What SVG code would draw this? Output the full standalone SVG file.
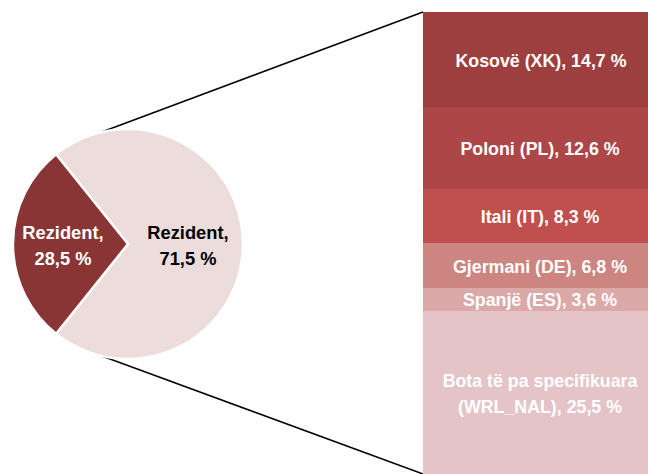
<svg xmlns="http://www.w3.org/2000/svg" width="648" height="474" viewBox="0 0 648 474">
<style>
text{font-family:"Liberation Sans",Arial,sans-serif;font-weight:bold;text-anchor:middle}
.bl{font-size:17.8px;fill:#ffffff}
.pl{font-size:18.3px}
.slice{stroke:#ffffff;stroke-width:2.5;stroke-linejoin:miter}
.conn{stroke:#000000;stroke-width:1.5;fill:none}
</style>
<rect width="648" height="474" fill="#ffffff"/>
<g id="connectors">
<line class="conn" x1="91" y1="136" x2="423" y2="12"/>
<line class="conn" x1="91" y1="352" x2="423" y2="474"/>
</g>
<g id="pie-other">
<path class="slice" d="M128,244 L56.1,154.2 A115,115 0 1 1 56.1,333.8 Z" fill="#ecdcdc"/>
<text class="pl" x="188" y="239" fill="#000000">Rezident,</text>
<text class="pl" x="188" y="265" fill="#000000">71,5 %</text>
</g>
<g id="pie-resident">
<path class="slice" d="M128,244 L56.1,333.8 A115,115 0 0 1 56.1,154.2 Z" fill="#8a3535"/>
<text class="pl" x="63" y="239" fill="#ffffff">Rezident,</text>
<text class="pl" x="63" y="265" fill="#ffffff">28,5 %</text>
</g>
<g id="bar-xk">
<rect x="423" y="12" width="225" height="95" fill="#9e3f3f"/>
<text class="bl" x="541" y="67">Kosovë (XK), 14,7 %</text>
</g>
<g id="bar-pl">
<rect x="423" y="107" width="225" height="82" fill="#ad4747"/>
<text class="bl" x="540" y="155">Poloni (PL), 12,6 %</text>
</g>
<g id="bar-it">
<rect x="423" y="189" width="225" height="54" fill="#c0504d"/>
<text class="bl" x="540" y="223">Itali (IT), 8,3 %</text>
</g>
<g id="bar-de">
<rect x="423" y="243" width="225" height="45" fill="#cd8581"/>
<text class="bl" x="540" y="273">Gjermani (DE), 6,8 %</text>
</g>
<g id="bar-es">
<rect x="423" y="288" width="225" height="23" fill="#dba9a8"/>
<text class="bl" x="540" y="306">Spanjë (ES), 3,6 %</text>
</g>
<g id="bar-wrl">
<rect x="423" y="311" width="225" height="163" fill="#e4c4c6"/>
<text class="bl" x="540" y="387">Bota të pa specifikuara</text>
<text class="bl" x="540" y="413">(WRL_NAL), 25,5 %</text>
</g>
</svg>
